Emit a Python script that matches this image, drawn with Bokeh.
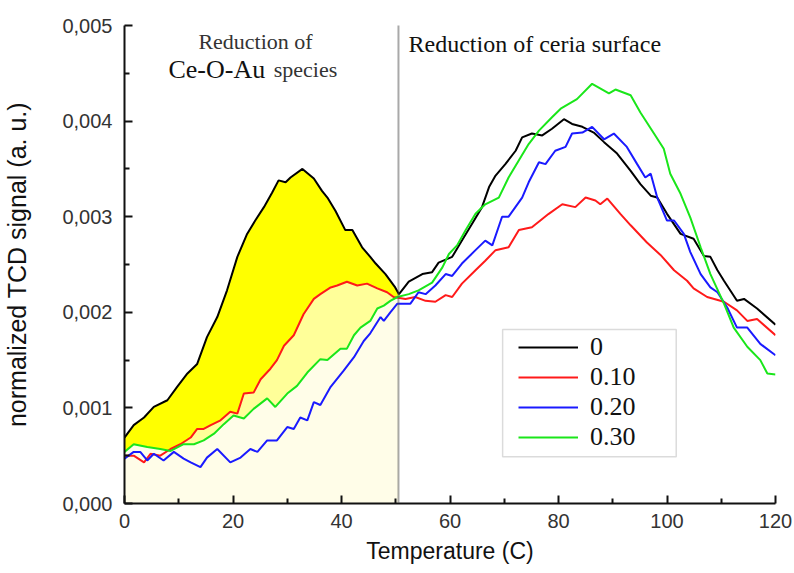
import numpy as np
from bokeh.plotting import figure
from bokeh.models import (Span, Label, Legend, LegendItem, BoxAnnotation, FixedTicker,
                          CustomJSTickFormatter, Range1d)
from bokeh.embed import file_html
from bokeh.resources import INLINE

# ---------------- data ----------------
black_x = [0, 1.7, 3.6, 5.4, 7.9, 9.7, 11.6, 13.4, 15.2, 17.1, 18.9, 20.8, 22.6, 24.1, 25.7,
           27.2, 28.4, 29.7, 30.6, 32.8, 34.9, 36.4, 37.4, 38.9, 40.7, 42.0, 43.8, 45.3, 46.3, 48.1,
           49.9, 50.6, 52.4, 54.9, 56.7, 57.9, 60.4, 62.2, 64.1, 65.9, 67.2, 68.4, 70.2, 72.1, 73.3,
           75.1, 77.0, 78.8, 81.0, 82.5, 84.4, 86.5, 88.4, 90.8, 93.3, 95.1, 97.0, 98.2, 100.0, 102.5,
           104.9, 106.8, 108.0, 109.3, 110.5, 112.9, 114.2, 116.6, 120]
black_y = [0.00069, 0.00082, 0.0009, 0.00101, 0.00108, 0.00122, 0.00136, 0.00146, 0.00174, 0.00195,
           0.00223, 0.00258, 0.00282, 0.00296, 0.0031, 0.00325, 0.00338, 0.00336, 0.00341, 0.0035,
           0.0034, 0.00327, 0.0032, 0.00306, 0.00286, 0.00286, 0.00268, 0.00258, 0.00251, 0.0024,
           0.00226, 0.00219, 0.00232, 0.0024, 0.00242, 0.00252, 0.00258, 0.00275, 0.00293, 0.0031,
           0.00331, 0.00343, 0.00355, 0.00369, 0.00383, 0.00387, 0.00385, 0.00392, 0.00402, 0.00397,
           0.00394, 0.00388, 0.00378, 0.00366, 0.00348, 0.00334, 0.00322, 0.0032, 0.00303, 0.00282,
           0.00277, 0.00259, 0.00258, 0.00244, 0.00233, 0.00212, 0.00214, 0.00204, 0.00187]

red_x = [0, 1.7, 3.6, 4.8, 6.6, 8.5, 10.3, 12.2, 13.4, 14.6, 15.9, 17.7, 19.5, 20.8, 22.0,
         23.8, 25.1, 26.9, 28.1, 29.4, 31.2, 33.0, 34.9, 36.1, 38.0, 39.2, 41.0, 42.9, 44.7, 46.6,
         48.4, 49.6, 51.8, 53.6, 55.5, 57.3, 59.2, 60.4, 62.2, 64.7, 66.5, 68.4, 70.8, 72.7, 75.1,
         78.2, 80.7, 83.1, 85.0, 86.8, 87.7, 89.0, 91.4, 93.3, 96.3, 98.8, 101.3, 103.7, 104.9, 107.4,
         110.5, 112.9, 114.8, 116.6, 120]
red_y = [0.0005, 0.0005, 0.00043, 0.00052, 0.0005, 0.00057, 0.00062, 0.00069, 0.00078, 0.00078,
         0.00082, 0.00087, 0.00096, 0.00094, 0.00115, 0.00116, 0.0013, 0.00141, 0.0015, 0.00165,
         0.00176, 0.00198, 0.00214, 0.00219, 0.00226, 0.00228, 0.00232, 0.00228, 0.0023, 0.00225,
         0.00221, 0.00216, 0.00214, 0.00216, 0.00212, 0.00211, 0.00218, 0.00216, 0.0023, 0.00244,
         0.00254, 0.00265, 0.00268, 0.00286, 0.00289, 0.00303, 0.00313, 0.0031, 0.0032, 0.00317,
         0.00313, 0.00319, 0.00303, 0.00291, 0.00273, 0.0026, 0.00244, 0.00233, 0.00225, 0.00216,
         0.00211, 0.00202, 0.00191, 0.00193, 0.00176]

blue_x = [0, 1.7, 2.9, 4.2, 5.4, 7.2, 9.1, 10.9, 12.2, 14.0, 15.2, 17.1, 19.5, 21.4, 23.2,
          24.5, 26.3, 28.1, 30.0, 31.2, 32.4, 33.7, 34.9, 36.1, 38.0, 40.4, 42.3, 44.1, 45.3, 47.2,
          47.8, 49.0, 50.3, 52.7, 54.2, 55.5, 57.3, 59.2, 60.4, 62.2, 64.7, 66.5, 67.8, 69.6, 70.8,
          73.3, 74.5, 76.4, 77.6, 79.4, 81.3, 82.5, 84.4, 86.2, 88.4, 90.2, 92.6, 94.5, 96.0, 97.0,
          98.2, 100.0, 101.3, 103.1, 104.3, 106.2, 108.0, 109.3, 111.1, 112.9, 114.8, 117.2, 120]
blue_y = [0.00047, 0.00054, 0.00054, 0.00045, 0.00052, 0.00045, 0.00054, 0.00047, 0.00043, 0.00038,
          0.00048, 0.00057, 0.00043, 0.00048, 0.00057, 0.00054, 0.00066, 0.00066, 0.0008, 0.00078,
          0.0009, 0.00087, 0.00106, 0.00103, 0.00122, 0.00139, 0.00153, 0.0017, 0.00178, 0.00195,
          0.00191, 0.002, 0.00209, 0.00209, 0.00221, 0.00219, 0.00228, 0.0024, 0.00238, 0.00251,
          0.00265, 0.00275, 0.0027, 0.003, 0.003, 0.0032, 0.00336, 0.00357, 0.00355, 0.00369,
          0.00373, 0.00387, 0.00388, 0.00394, 0.00381, 0.00387, 0.00373, 0.00355, 0.00341, 0.00345,
          0.0032, 0.00296, 0.00296, 0.00282, 0.00263, 0.0024, 0.00226, 0.00221, 0.00205, 0.00184,
          0.00184, 0.00167, 0.00155]

green_x = [0, 1.7, 4.2, 6.6, 8.5, 10.9, 12.8, 14.6, 16.5, 18.3, 20.1, 22.0, 23.8, 26.3, 27.8,
           30.0, 31.8, 33.7, 36.1, 37.4, 39.8, 41.0, 42.3, 43.5, 45.3, 46.6, 47.8, 49.0, 50.3, 52.4,
           54.2, 56.7, 58.6, 59.8, 61.3, 62.9, 64.7, 66.5, 69.0, 70.8, 72.7, 74.5, 76.4, 78.8, 80.4,
           83.4, 86.2, 89.3, 90.5, 93.3, 95.1, 97.6, 99.4, 100.6, 102.5, 104.3, 106.2, 108.0, 110.5,
           112.3, 114.8, 117.2, 118.5, 120]
green_y = [0.00054, 0.00062, 0.00059, 0.00057, 0.00055, 0.00062, 0.00062, 0.00066, 0.00073, 0.00083,
           0.00092, 0.00089, 0.00099, 0.0011, 0.00101, 0.00115, 0.00123, 0.00137, 0.00151, 0.0015,
           0.00162, 0.00162, 0.00176, 0.00184, 0.00191, 0.00204, 0.00207, 0.00212, 0.00216, 0.00219,
           0.00223, 0.00231, 0.00247, 0.00261, 0.0027, 0.00286, 0.00303, 0.00313, 0.0032, 0.00341,
           0.00359, 0.00376, 0.0039, 0.00404, 0.00413, 0.00423, 0.00439, 0.00429, 0.00433, 0.00427,
           0.00409, 0.00387, 0.00371, 0.00345, 0.00324, 0.00299, 0.00268, 0.0024, 0.00209, 0.00184,
           0.00164, 0.0015, 0.00136, 0.00135]

series_labels = ["0", "0.10", "0.20", "0.30"]
x_ticks = [0, 20, 40, 60, 80, 100, 120]
y_ticks = [0.0, 0.001, 0.002, 0.003, 0.004, 0.005]
divider_x = 50.5

# ---------------- figure ----------------
p = figure(frame_width=651, frame_height=478,
           x_range=Range1d(0, 120), y_range=Range1d(0, 0.005),
           output_backend="svg", toolbar_location=None,
           min_border_left=124, min_border_right=19, min_border_top=25, min_border_bottom=66)
p.outline_line_color = None
p.xgrid.grid_line_color = None
p.ygrid.grid_line_color = None
p.background_fill_color = "white"


def clip(x, y, cut):
    x = np.asarray(x, dtype=float)
    y = np.asarray(y, dtype=float)
    m = x < cut
    return list(x[m]) + [cut], list(y[m]) + [float(np.interp(cut, x, y))]


kx, ky = clip(black_x, black_y, divider_x)
rx, ry = clip(red_x, red_y, divider_x)
gx, gy = clip(green_x, green_y, divider_x)

p.patch(kx + rx[::-1], ky + ry[::-1], fill_color="#FFFF00", line_color=None)
p.patch(rx + gx[::-1], ry + gy[::-1], fill_color="#FFFF99", line_color=None)
p.patch(gx + [divider_x, 0], gy + [0, 0], fill_color="#FFFDE8", line_color=None)

p.add_layout(Span(location=divider_x, dimension="height", line_color="#555555",
                  line_width=2, line_dash="1 1"))

r0 = p.line(black_x, black_y, line_color="black", line_width=2)
r1 = p.line(red_x, red_y, line_color="#FF1A1A", line_width=2)
r2 = p.line(blue_x, blue_y, line_color="#1A1AFF", line_width=2)
r3 = p.line(green_x, green_y, line_color="#1AE61A", line_width=2)

# ---------------- axes ----------------
for ax in (p.xaxis[0], p.yaxis[0]):
    ax.axis_line_width = 2
    ax.axis_line_color = "#111111"
    ax.major_tick_line_color = "#111111"
    ax.minor_tick_line_color = "#111111"
    ax.major_tick_line_width = 2
    ax.minor_tick_line_width = 2
    ax.major_tick_in = 8
    ax.major_tick_out = 0
    ax.minor_tick_in = 5
    ax.minor_tick_out = 0
    ax.major_label_text_font = "Liberation Sans"
    ax.major_label_text_font_size = "20px"
    ax.major_label_text_color = "#333333"
    ax.axis_label_text_font = "Liberation Sans"
    ax.axis_label_text_font_style = "normal"
    ax.axis_label_text_color = "#111111"

p.xaxis.ticker = FixedTicker(ticks=x_ticks, minor_ticks=[10, 30, 50, 70, 90, 110])
p.yaxis.ticker = FixedTicker(ticks=y_ticks,
                             minor_ticks=[0.0005, 0.0015, 0.0025, 0.0035, 0.0045])
p.yaxis.formatter = CustomJSTickFormatter(code="return tick.toFixed(3).replace('.', ',');")
p.xaxis.major_label_standoff = 10
p.yaxis.major_label_standoff = 12
p.xaxis.axis_label = "Temperature (C)"
p.yaxis.axis_label = "normalized TCD signal (a. u.)"
p.xaxis.axis_label_text_font_size = "23px"
p.yaxis.axis_label_text_font_size = "25px"
p.xaxis.axis_label_standoff = 7
p.yaxis.axis_label_standoff = 28

# ---------------- annotations ----------------
serif = "Liberation Serif"
p.add_layout(Label(x=24.15, y=0.00483, text="Reduction of", text_font=serif,
                   text_font_size="22px", text_color="#333333", text_align="center",
                   text_baseline="alphabetic"))
p.add_layout(Label(x=8.1, y=0.004535, text="Ce-O-Au", text_font=serif,
                   text_font_size="26px", text_color="#111111", text_baseline="alphabetic"))
p.add_layout(Label(x=27.5, y=0.004535, text="species", text_font=serif,
                   text_font_size="22px", text_color="#333333", text_baseline="alphabetic"))
p.add_layout(Label(x=52.35, y=0.00481, text="Reduction of ceria surface", text_font=serif,
                   text_font_size="24px", text_color="#111111", text_baseline="alphabetic"))

p.add_layout(BoxAnnotation(left=69.7, right=101.7, bottom=0.00049, top=0.00182,
                           fill_alpha=0, line_color="#888888", line_width=1.5))

legend = Legend(items=[LegendItem(label=series_labels[0], renderers=[r0]),
                       LegendItem(label=series_labels[1], renderers=[r1]),
                       LegendItem(label=series_labels[2], renderers=[r2]),
                       LegendItem(label=series_labels[3], renderers=[r3])],
                location=(394, 51), padding=0, margin=0, spacing=0,
                glyph_width=60, glyph_height=30, label_height=30, label_standoff=12,
                label_text_font=serif, label_text_font_size="26px",
                label_text_color="#111111",
                border_line_alpha=0, background_fill_alpha=0)
p.add_layout(legend)

open("out.html", "w").write(file_html(p, INLINE))
